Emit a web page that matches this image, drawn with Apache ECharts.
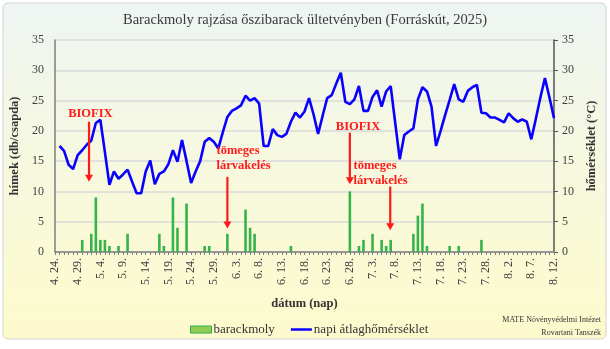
<!DOCTYPE html>
<html><head><meta charset="utf-8">
<script src="https://cdn.jsdelivr.net/npm/echarts@6/dist/echarts.min.js"></script>
<style>html,body{margin:0;padding:0;background:#fff}#c{width:610px;height:349px}</style>
</head><body><div id="c"></div>
<script>
// ---- categories: every day from 2025-04-24 to 2025-08-12 ----
const dayCount = 111;
const dates = [];
for (let i = 0; i < dayCount; i++) {
  const d = new Date(2025, 3, 24 + i);
  dates.push((d.getMonth() + 1) + '. ' + d.getDate() + '.');
}

// ---- trap catches (hímek, db/csapda) ----
const trapDates = ['4. 30.','5. 2.','5. 3.','5. 4.','5. 5.','5. 6.','5. 8.','5. 10.','5. 17.','5. 18.','5. 20.','5. 21.','5. 23.','5. 27.','5. 28.','6. 1.','6. 5.','6. 6.','6. 7.','6. 15.','6. 28.','6. 30.','7. 1.','7. 3.','7. 5.','7. 6.','7. 7.','7. 12.','7. 13.','7. 14.','7. 15.','7. 20.','7. 22.','7. 27.'];
const trapCounts = [2,3,9,2,2,1,1,3,3,1,9,4,8,1,1,3,7,4,3,1,10,1,2,3,2,1,2,3,6,8,1,1,1,2];

// ---- daily mean temperature (°C), one value per day ----
const tempValues = [
  null,17.5,16.7,14.4,13.7,16.0,16.8,17.7,18.4,21.3,
  21.8,16.5,11.1,13.3,12.1,12.8,13.6,11.6,9.7,9.7,
  13.3,15.1,11.2,12.9,13.3,14.5,16.8,14.9,18.5,15.0,
  11.4,13.3,15.0,18.2,18.8,18.2,17.1,19.8,22.3,23.3,
  23.7,24.2,25.8,25.0,25.4,24.5,17.5,17.5,20.3,19.3,
  19.0,19.5,21.5,23.0,22.2,23.2,25.4,22.7,19.5,22.5,
  25.4,25.9,27.8,29.6,24.8,24.4,25.2,27.4,23.3,23.3,
  25.6,26.7,24.0,26.5,27.4,21.3,15.3,19.3,19.9,20.4,
  25.2,27.2,26.5,24.0,17.5,20.0,22.6,25.1,27.7,25.2,
  24.8,26.6,27.2,27.6,23.0,22.9,22.2,22.2,21.8,21.4,
  22.9,22.1,21.5,21.9,21.5,18.6,22.0,25.5,28.7,25.5,
  22.1
];

// ---- annotation anchors in data units (day index, value) ----
const arrowNotes = [
  {lines:['BIOFIX'], textDay:7.8, textVal:22.9, align:'center', arrowDay:7.5, fromVal:21.5, toVal:11.6},
  {lines:['tömeges','lárvakelés'], textDay:35.6, textVal:16.7, align:'left', arrowDay:38, fromVal:12.4, toVal:3.9},
  {lines:['BIOFIX'], textDay:66.8, textVal:20.7, align:'center', arrowDay:65, fromVal:19.7, toVal:11.2},
  {lines:['tömeges','lárvakelés'], textDay:65.8, textVal:14.2, align:'left', arrowDay:73.9, fromVal:10.8, toVal:3.6}
];

const yTicks = [0,5,10,15,20,25,30,35];

// build the bar series from the trap arrays
const barData = dates.map(() => 0);
trapDates.forEach((d, k) => { barData[dates.indexOf(d)] = trapCounts[k]; });

const serif = '"Liberation Serif", "Times New Roman", serif';
const chart = echarts.init(document.getElementById('c'), null, {renderer: 'canvas'});

const option = {
  animation: false,
  backgroundColor: '#ffffff',
  title: {
    text: 'Barackmoly rajzása őszibarack ültetvényben (Forráskút, 2025)',
    left: 'center', top: 8,
    textStyle: {fontFamily: serif, fontSize: 14.5, fontWeight: 'normal', color: '#3a3a3a'}
  },
  grid: {left: 52, right: 56, top: 40, bottom: 97},
  legend: {
    left: 185, top: 318, itemWidth: 21, itemHeight: 7, itemGap: 16,
    textStyle: {fontFamily: serif, fontSize: 13, color: '#333', padding: [0,0,0,-3]},
    data: [
      {name: 'barackmoly', icon: 'rect', itemStyle: {color: '#92cc52', borderColor: '#2eae4a', borderWidth: 1}},
      {name: 'napi átlaghőmérséklet', icon: 'path://M0,0 L42,0 L42,5 L0,5 Z', itemStyle: {color: '#0a00ff'}}
    ]
  },
  xAxis: {
    type: 'category', data: dates, boundaryGap: false,
    name: 'dátum (nap)', nameLocation: 'middle', nameGap: 45,
    nameTextStyle: {fontFamily: serif, fontSize: 12.5, fontWeight: 'bold', color: '#333'},
    axisLine: {lineStyle: {color: '#7f7f7f', width: 1.5}},
    axisTick: {show: true, interval: 0, length: 3, lineStyle: {color: '#7f7f7f'}},
    axisLabel: {interval: 4, rotate: 90, margin: 6, fontFamily: serif, fontSize: 12, color: '#404040'},
    splitLine: {show: false}
  },
  yAxis: [
    {
      type: 'value', min: 0, max: 35, interval: 5, position: 'left',
      name: 'hímek (db/csapda)', nameLocation: 'middle', nameGap: 34, nameRotate: 90,
      nameTextStyle: {fontFamily: serif, fontSize: 12.5, fontWeight: 'bold', color: '#333'},
      axisLine: {show: true, lineStyle: {color: '#7f7f7f', width: 1.5}},
      axisTick: {show: false},
      axisLabel: {fontFamily: serif, fontSize: 12, color: '#404040', margin: 11,
        formatter: v => yTicks.includes(v) ? String(v) : ''},
      splitLine: {show: true, lineStyle: {color: '#dadada', width: 1.5}}
    },
    {
      type: 'value', min: 0, max: 35, interval: 5, position: 'right',
      name: 'hőmérséklet (°C)', nameLocation: 'middle', nameGap: 30, nameRotate: 90,
      nameTextStyle: {fontFamily: serif, fontSize: 12.5, fontWeight: 'bold', color: '#333'},
      axisLine: {show: true, lineStyle: {color: '#555', width: 1.5}},
      axisTick: {show: true, length: 4, lineStyle: {color: '#555'}},
      axisLabel: {fontFamily: serif, fontSize: 12, color: '#404040', margin: 8,
        formatter: v => yTicks.includes(v) ? String(v) : ''},
      splitLine: {show: false}
    }
  ],
  series: [
    {
      name: 'barackmoly', type: 'bar', yAxisIndex: 0, data: barData,
      barWidth: 2.6, itemStyle: {color: '#36b34b'}, z: 2
    },
    {
      name: 'napi átlaghőmérséklet', type: 'line', yAxisIndex: 1, data: tempValues,
      symbol: 'none', lineStyle: {color: '#0a00ff', width: 2.6}, itemStyle: {color: '#0a00ff'},
      connectNulls: false, z: 3
    }
  ]
};
chart.setOption(option);

function xPix(day) {
  const i0 = Math.floor(day), f = day - i0;
  const a = chart.convertToPixel({xAxisIndex: 0}, i0);
  const b = chart.convertToPixel({xAxisIndex: 0}, Math.min(i0 + 1, dayCount - 1));
  return a + (b - a) * f;
}
function yPix(v) { return chart.convertToPixel({yAxisIndex: 0}, v); }

const g = [];
g.push({
  type: 'rect', z: -100, silent: true,
  shape: {x: 3, y: 3, width: 603, height: 336, r: 5},
  style: {
    fill: {type: 'linear', x: 0, y: 0, x2: 0, y2: 1, colorStops: [
      {offset: 0, color: '#eef5f3'}, {offset: 0.45, color: '#f6f8e0'}, {offset: 1, color: '#fdfbcc'}]},
    stroke: '#d2d2d2', lineWidth: 1
  }
});
const redFont = 'bold 12.5px ' + serif;
arrowNotes.forEach(n => {
  const tx = xPix(n.textDay), ty = yPix(n.textVal);
  n.lines.forEach((t, k) => {
    g.push({type: 'text', z: 10, style: {text: t, x: tx, y: ty + k * 14.5, font: redFont,
      fill: '#ff1a1a', align: n.align, verticalAlign: 'middle'}});
  });
  const ax = xPix(n.arrowDay), y1 = yPix(n.fromVal), y2 = yPix(n.toVal);
  g.push({type: 'line', z: 10, shape: {x1: ax, y1: y1, x2: ax, y2: y2 - 6},
    style: {stroke: '#ff1a1a', lineWidth: 2.2}});
  g.push({type: 'polygon', z: 10, shape: {points: [[ax - 4, y2 - 7], [ax + 4, y2 - 7], [ax, y2]]},
    style: {fill: '#ff1a1a'}});
});
g.push({type: 'text', z: 10, style: {text: 'MATE Növényvédelmi Intézet', x: 601, y: 320,
  font: '8px ' + serif, fill: '#333', align: 'right', verticalAlign: 'middle'}});
g.push({type: 'text', z: 10, style: {text: 'Rovartani Tanszék', x: 601, y: 333,
  font: '8px ' + serif, fill: '#333', align: 'right', verticalAlign: 'middle'}});
chart.setOption({graphic: g});
</script></body></html>
